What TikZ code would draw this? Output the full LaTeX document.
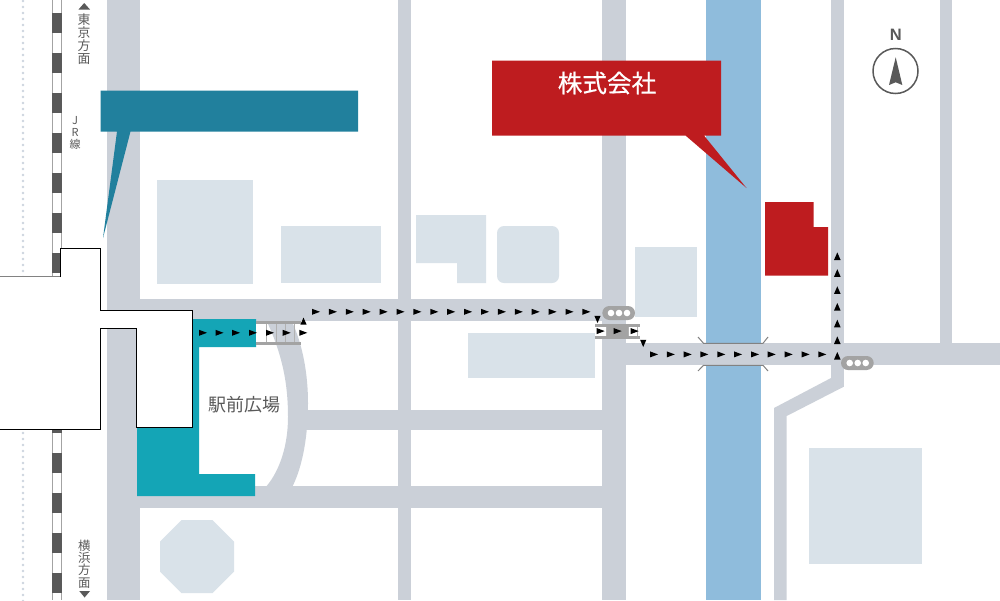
\documentclass[tikz,border=0pt]{standalone}
\usepackage{fontspec}
\setmainfont{Liberation Sans}
\newfontfamily\cjk{Noto Sans CJK JP}
\newfontfamily\cjkm[FakeBold=0.5]{Noto Sans CJK JP}
\definecolor{roadc}{HTML}{CBD0D8}
\definecolor{riverc}{HTML}{8FBCDC}
\definecolor{bldg}{HTML}{D9E2E9}
\definecolor{tealc}{HTML}{14A5B6}
\definecolor{callblue}{HTML}{21809D}
\definecolor{callred}{HTML}{BE1C1F}
\definecolor{ink}{HTML}{595959}
\definecolor{railc}{HTML}{A3A3A3}
\definecolor{signal}{HTML}{A3A3A3}
\definecolor{dotc}{HTML}{CDD4DE}
\tikzset{
  road/.style={fill=roadc},
  bld/.style={fill=bldg},
  tealarea/.style={fill=tealc},
  tri/.style={fill=black},
  inktri/.style={fill=ink},
  stationline/.style={draw=black,line width=0.9pt,fill=white},
  rail/.style={draw=railc,line width=1.7pt},
  rung/.style={draw=railc!85!white,line width=0.9pt},
  walkbar/.style={draw=railc,line width=2.6pt},
  bridge/.style={draw=ink!75!white,line width=1pt},
  vtext/.style={text=ink,align=center,inner sep=0pt},
}
\begin{document}
\begin{tikzpicture}[x=1pt,y=-1pt]
\useasboundingbox (0,0) rectangle (1000,600);
\fill[white] (0,0) rectangle (1000,600);
% river
\fill[riverc] (706,0) rectangle (761,600);
% roads
\fill[road] (107.4,0) rectangle (140,600);
\fill[road] (398,0) rectangle (411,600);
\fill[road] (601.8,0) rectangle (626.4,600);
\fill[road] (831,0) rectangle (843.8,387);
\fill[road] (939.8,0) rectangle (952.4,344);
\fill[road] (140,299) rectangle (626.4,321);
\fill[road] (626,343.3) rectangle (1000,365.3);
\fill[road] (305,410) rectangle (602,430);
\fill[road] (140,486) rectangle (602,507.8);
\fill[road] (843.8,386.7) -- (831,378) -- (774,408) -- (774,600) -- (786.7,600) -- (786.7,416) -- cycle;
\fill[road] (266.7,321) .. controls (281,352) and (288,380) .. (288,417)
  .. controls (288,445) and (280,470) .. (266.7,486) -- (292.7,486)
  .. controls (303,465) and (308,435) .. (308,403)
  .. controls (308,375) and (303,345) .. (291.7,321) -- cycle;
% buildings
\fill[bld] (157,180) rectangle (253,284);
\fill[bld] (281,226) rectangle (381,283);
\fill[bld] (416,215) -- (486,215) -- (486,283) -- (457,283) -- (457,263) -- (416,263) -- cycle;
\fill[bld,rounded corners=7pt] (497,226) rectangle (559,283);
\fill[bld] (635,247) rectangle (697,317);
\fill[bld] (468,333) rectangle (595,378);
\fill[bld] (809,448) rectangle (922,564);
\fill[bld] (181.5,520) -- (212.5,520) -- (234,541.5) -- (234,571.5) -- (212.5,593) -- (181.5,593) -- (160,571.5) -- (160,541.5) -- cycle;
% dotted line and railway
\foreach \n in {0,...,46} \fill[dotc] (23,1+6*\n) circle[radius=1.35];
\foreach \n in {0,...,28} \fill[dotc] (23,433+6*\n) circle[radius=1.35];
\draw[rail] (52.5,0) -- (52.5,277) (61.6,0) -- (61.6,277);
\draw[rail] (52.5,429) -- (52.5,600) (61.6,429) -- (61.6,600);
\foreach \y in {13,53,93,133,173,213,253,413,453,493,533,573}
  \fill[ink] (52,\y) rectangle (62,\y+19.5);
% teal plaza
\fill[tealarea] (192,319) -- (256,319) -- (256,347) -- (199,347) -- (199,474) -- (255,474) -- (255,496) -- (137,496) -- (137,427) -- (192,427) -- cycle;
% crosswalk near plaza
\fill[white] (256,323) rectangle (266,343);
\foreach \x in {266,276,285,294.5}
  \draw[rung] (\x,322.5) -- (\x,343.5);
\draw[walkbar] (256,322.6) -- (301,322.6);
\draw[walkbar] (256,343.4) -- (301,343.4);
% crosswalk at the junction
\fill[white] (595,325) rectangle (639,338);
\fill[railc] (606,325) rectangle (627.5,338);
\draw[rung] (606,325) -- (606,338);
\draw[rung] (628,325) -- (628,338);
\draw[rung] (637,325) -- (637,338);
\draw[walkbar] (595,325.4) -- (640,325.4);
\draw[walkbar] (595,337.5) -- (640,337.5);
% bridge
\draw[bridge] (698,337) -- (703.5,343.3) -- (763,343.3) -- (768,337);
\draw[bridge] (698,371) -- (703.5,365.3) -- (763,365.3) -- (768,371);
% station
\fill[white] (0,277) -- (60,277) -- (60,248) -- (100.5,248) -- (100.5,310) -- (192,310) -- (192,427) -- (136,427) -- (136,328) -- (100.5,328) -- (100.5,429.5) -- (0,429.5) -- cycle;
\draw[railc!80!black,line width=1.2pt] (0,276.7) -- (60,276.7);
\draw[stationline,fill=none] (60,277) -- (60,248) -- (100.5,248) -- (100.5,310) -- (192,310) -- (192,427) -- (136,427) -- (136,328) -- (100.5,328) -- (100.5,429.5) -- (0,429.5);
% callouts
\fill[callblue] (100.5,90.5) -- (358,90.5) -- (358,131.5) -- (130.5,131.5) -- (103,238) -- (117,131.5) -- (100.5,131.5) -- cycle;
\fill[callred] (492,60.5) -- (721,60.5) -- (721,135.5) -- (704,135.5) -- (746.5,188) -- (685.5,135.5) -- (492,135.5) -- cycle;
\node[text=white,inner sep=0pt,font=\cjkm\fontsize{24.6}{24.6}\selectfont] (company) at (607,83) {株式会社};
% company building
\fill[callred] (765,202) -- (813.6,202) -- (813.6,227) -- (828,227) -- (828,275.6) -- (765,275.6) -- cycle;
% labels
\node[vtext,font=\cjk\fontsize{12.8}{13}\selectfont] (tokyo) at (84,39) {東\\京\\方\\面};
\node[vtext,font=\cjk\fontsize{11}{11.7}\selectfont] (jr) at (75,133) {J\\R\\線};
\node[vtext,font=\cjk\fontsize{12.4}{12.2}\selectfont] (yokohama) at (84.3,564) {横\\浜\\方\\面};
\node[text=ink,inner sep=0pt,font=\cjk\fontsize{18}{18}\selectfont] (plaza) at (244,405) {駅前広場};
\fill[inktri] (84.2,3) -- (90,9.5) -- (78.5,9.5) -- cycle;
\fill[inktri] (84.6,597.5) -- (90,591) -- (79.3,591) -- cycle;
% compass
\node[text=ink,inner sep=0pt,font=\fontsize{16.5}{16.5}\selectfont\bfseries] (north) at (895.7,35) {N};
\draw[ink,line width=1.5pt] (895.5,71) circle[radius=22.5];
\fill[ink] (895.7,57.3) -- (902.3,85) -- (895.7,82.3) -- (889,85) -- cycle;
% signals
\fill[signal,rounded corners=7pt] (602.3,306) rectangle (635,320);
\foreach \x in {611,619,627} \fill[white] (\x,313) circle[radius=3.3];
\fill[signal,rounded corners=7pt] (841,356) rectangle (873.7,370);
\foreach \x in {849.7,857.7,865.7} \fill[white] (\x,363) circle[radius=3.3];
% route arrows, right-pointing (left edge, axis)
\foreach \x in {312,328.9,345.8,362.7,379.6,396.5,413.4,430.3,447.2,464.1,481,497.9,514.8,531.7,548.6,565.5,582.4}
  \fill[tri] (\x,308.8) -- (\x+8,311.8) -- (\x,314.8) -- cycle;
\foreach \x in {199,215.5,232,249,266,282.7,299.3}
  \fill[tri] (\x,329.8) -- (\x+8,332.8) -- (\x,335.8) -- cycle;
\foreach \x in {596.7,613.7,630.7}
  \fill[tri] (\x,328.1) -- (\x+8,331.1) -- (\x,334.1) -- cycle;
\foreach \x in {650,666.8,683.7,700.4,717.3,734,751,767.7,784.7,801.6,818.3}
  \fill[tri] (\x,351.4) -- (\x+8,354.4) -- (\x,357.4) -- cycle;
% up
\fill[tri] (303.5,317.6) -- (306.6,324.6) -- (300.4,324.6) -- cycle;
\foreach \y in {252.4,269.2,286.3,303,319.7,336.4,352}
  \fill[tri] (837.3,\y) -- (840.6,\y+7.6) -- (834,\y+7.6) -- cycle;
% down
\fill[tri] (597.5,323) -- (600.6,315.8) -- (594.4,315.8) -- cycle;
\fill[tri] (643.2,347) -- (646.3,339.8) -- (640.1,339.8) -- cycle;
\end{tikzpicture}
\end{document}
